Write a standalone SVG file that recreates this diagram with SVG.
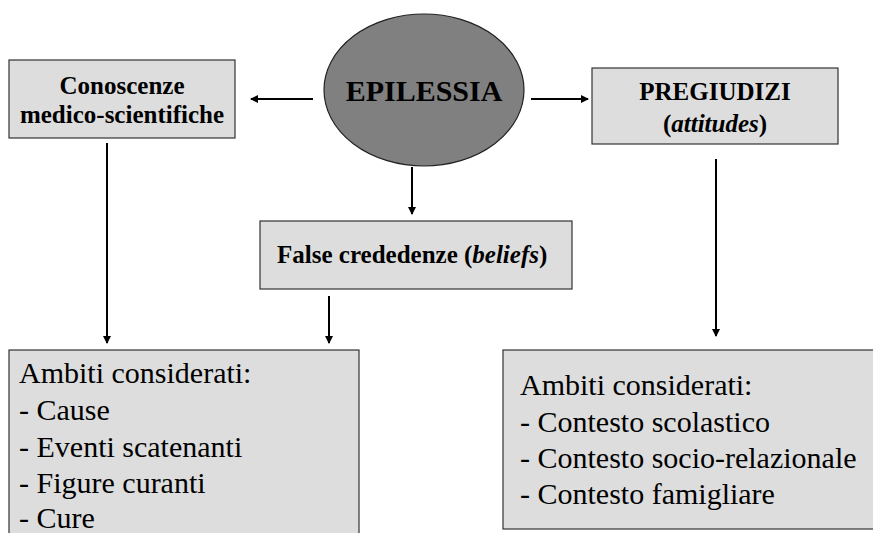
<svg xmlns="http://www.w3.org/2000/svg" width="873" height="533" viewBox="0 0 873 533">
<defs>
<marker id="ah" markerWidth="8" markerHeight="8" refX="7" refY="4" orient="auto" markerUnits="userSpaceOnUse">
<path d="M0,0 L8,4 L0,8 Z" fill="#000"/>
</marker>
<style>
.box{fill:#dddddd;stroke:#333333;stroke-width:1.2}
.lbl{font-family:'Times New Roman','Liberation Serif',serif;font-weight:bold;font-size:25px;fill:#000}
.txt{font-family:'Times New Roman','Liberation Serif',serif;font-size:30px;fill:#000}
.con{stroke:#000;stroke-width:2;fill:none;marker-end:url(#ah)}
</style>
</defs>
<rect width="873" height="533" fill="#fff"/>
<g id="connectors">
<line class="con" x1="313" y1="99" x2="251" y2="99"/>
<line class="con" x1="531" y1="99" x2="588" y2="99"/>
<line class="con" x1="412" y1="167" x2="412" y2="214"/>
<line class="con" x1="107" y1="143" x2="107" y2="343"/>
<line class="con" x1="329" y1="296" x2="329" y2="343"/>
<line class="con" x1="716" y1="159" x2="716" y2="336"/>
</g>
<g id="epilessia">
<ellipse cx="424" cy="90" rx="100" ry="76" fill="#808080" stroke="#222" stroke-width="1.2"/>
<text class="lbl" x="424" y="101" text-anchor="middle" style="font-size:30px">EPILESSIA</text>
</g>
<g id="conoscenze">
<rect class="box" x="9" y="60" width="226" height="78"/>
<text class="lbl" x="122" y="94" text-anchor="middle">Conoscenze</text>
<text class="lbl" x="122" y="123" text-anchor="middle">medico-scientifiche</text>
</g>
<g id="pregiudizi">
<rect class="box" x="592" y="68" width="246" height="76"/>
<text class="lbl" x="715" y="100" text-anchor="middle">PREGIUDIZI</text>
<text class="lbl" x="715" y="132" text-anchor="middle">(<tspan font-style="italic">attitudes</tspan>)</text>
</g>
<g id="false-credenze">
<rect class="box" x="260" y="221" width="312" height="68"/>
<text class="lbl" x="277" y="263">False crededenze (<tspan font-style="italic">beliefs</tspan>)</text>
</g>
<g id="ambiti-sinistra">
<rect class="box" x="9" y="350" width="350" height="200"/>
<text class="txt" x="19" y="383">Ambiti considerati:</text>
<text class="txt" x="19" y="420">- Cause</text>
<text class="txt" x="19" y="456.5">- Eventi scatenanti</text>
<text class="txt" x="19" y="493">- Figure curanti</text>
<text class="txt" x="19" y="528">- Cure</text>
</g>
<g id="ambiti-destra">
<rect class="box" x="503" y="350" width="380" height="179"/>
<text class="txt" x="520" y="395">Ambiti considerati:</text>
<text class="txt" x="520" y="431.5">- Contesto scolastico</text>
<text class="txt" x="520" y="468">- Contesto socio-relazionale</text>
<text class="txt" x="520" y="504">- Contesto famigliare</text>
</g>
</svg>
